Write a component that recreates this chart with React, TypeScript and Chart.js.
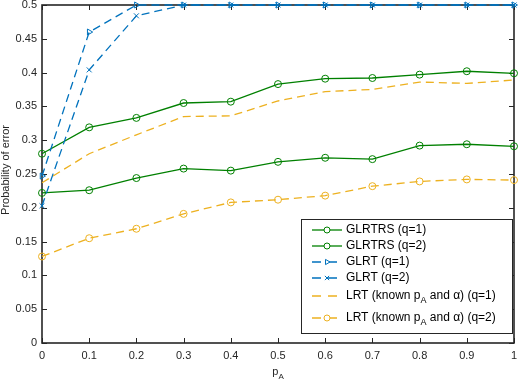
import React, { useEffect, useRef } from "react";
import { Chart, registerables } from "chart.js";
import { drawPoint } from "chart.js/helpers";
Chart.register(...registerables);

const pA = [0, 0.1, 0.2, 0.3, 0.4, 0.5, 0.6, 0.7, 0.8, 0.9, 1];
const glrtrsQ1 = [0.280, 0.319, 0.333, 0.355, 0.357, 0.383, 0.391, 0.392, 0.397, 0.402, 0.399];
const glrtrsQ2 = [0.222, 0.226, 0.244, 0.258, 0.255, 0.268, 0.274, 0.272, 0.292, 0.294, 0.291];
const glrtQ1 = [0.247, 0.460, 0.500, 0.500, 0.500, 0.500, 0.500, 0.500, 0.500, 0.500, 0.500];
const glrtQ2 = [0.203, 0.404, 0.484, 0.500, 0.500, 0.500, 0.500, 0.500, 0.500, 0.500, 0.500];
const lrtQ1 = [0.237, 0.280, 0.308, 0.335, 0.336, 0.358, 0.372, 0.375, 0.386, 0.384, 0.389];
const lrtQ2 = [0.128, 0.155, 0.169, 0.191, 0.208, 0.212, 0.218, 0.232, 0.239, 0.242, 0.241];

const xTicks = [0, 0.1, 0.2, 0.3, 0.4, 0.5, 0.6, 0.7, 0.8, 0.9, 1];
const yTicks = [0, 0.05, 0.1, 0.15, 0.2, 0.25, 0.3, 0.35, 0.4, 0.45, 0.5];

const GREEN = "#008000";
const BLUE = "#0072BD";
const ORANGE = "#EDB120";
const TEXT = "#262626";
const FONT = "'Liberation Sans', Arial, Helvetica, sans-serif";

type Seg = { t: string; sub?: boolean };
type Series = {
  name: Seg[];
  data: number[];
  color: string;
  dash: number[];
  pointStyle: string | false;
  rotation: number;
};

const series: Series[] = [
  { name: [{ t: "GLRTRS (q=1)" }], data: glrtrsQ1, color: GREEN, dash: [], pointStyle: "circle", rotation: 0 },
  { name: [{ t: "GLRTRS (q=2)" }], data: glrtrsQ2, color: GREEN, dash: [], pointStyle: "circle", rotation: 0 },
  { name: [{ t: "GLRT (q=1)" }], data: glrtQ1, color: BLUE, dash: [8, 5], pointStyle: "triangle", rotation: 90 },
  { name: [{ t: "GLRT (q=2)" }], data: glrtQ2, color: BLUE, dash: [8, 5], pointStyle: "crossRot", rotation: 0 },
  {
    name: [{ t: "LRT (known p" }, { t: "A", sub: true }, { t: " and α) (q=1)" }],
    data: lrtQ1, color: ORANGE, dash: [8, 5], pointStyle: false, rotation: 0,
  },
  {
    name: [{ t: "LRT (known p" }, { t: "A", sub: true }, { t: " and α) (q=2)" }],
    data: lrtQ2, color: ORANGE, dash: [8, 5], pointStyle: "circle", rotation: 0,
  },
];

function drawSegs(ctx: CanvasRenderingContext2D, segs: Seg[], x: number, y: number, size: number) {
  let cx = x;
  for (const s of segs) {
    if (s.sub) {
      ctx.font = `${Math.round(size * 0.75)}px ${FONT}`;
      ctx.fillText(s.t, cx, y + size * 0.4);
    } else {
      ctx.font = `${size}px ${FONT}`;
      ctx.fillText(s.t, cx, y);
    }
    cx += ctx.measureText(s.t).width;
  }
  return cx - x;
}

function measureSegs(ctx: CanvasRenderingContext2D, segs: Seg[], size: number) {
  let w = 0;
  for (const s of segs) {
    ctx.font = `${s.sub ? Math.round(size * 0.75) : size}px ${FONT}`;
    w += ctx.measureText(s.t).width;
  }
  return w;
}

const framePlugin = {
  id: "frame",
  beforeDatasetsDraw(chart: any) {
    const { ctx, chartArea } = chart;
    const { left, right, top, bottom } = chartArea;
    const xs = chart.scales.x;
    const ys = chart.scales.y;
    ctx.save();
    ctx.strokeStyle = TEXT;
    ctx.lineWidth = 1;
    ctx.setLineDash([]);
    ctx.beginPath();
    for (const v of xTicks) {
      const px = Math.round(xs.getPixelForValue(v)) + 0.5;
      ctx.moveTo(px, bottom);
      ctx.lineTo(px, bottom - 5);
      ctx.moveTo(px, top);
      ctx.lineTo(px, top + 5);
    }
    for (const v of yTicks) {
      const py = Math.round(ys.getPixelForValue(v)) + 0.5;
      ctx.moveTo(left, py);
      ctx.lineTo(left + 5, py);
      ctx.moveTo(right, py);
      ctx.lineTo(right - 5, py);
    }
    ctx.stroke();
    ctx.lineWidth = 1.6;
    ctx.strokeRect(left, top, right - left, bottom - top);
    ctx.restore();
  },
  afterDraw(chart: any) {
    const { ctx, chartArea } = chart;
    ctx.save();
    ctx.fillStyle = TEXT;
    // y title
    ctx.save();
    ctx.translate(6, (chartArea.top + chartArea.bottom) / 2 - 4);
    ctx.rotate(-Math.PI / 2);
    ctx.font = `11px ${FONT}`;
    ctx.textAlign = "center";
    ctx.textBaseline = "middle";
    ctx.fillText("Probability of error", 0, 0);
    ctx.restore();
    // x title
    ctx.textBaseline = "middle";
    ctx.textAlign = "left";
    const xt: Seg[] = [{ t: "p" }, { t: "A", sub: true }];
    const w = measureSegs(ctx, xt, 11);
    drawSegs(ctx, xt, (chartArea.left + chartArea.right) / 2 - w / 2, 372, 11);

    // legend
    const size = 12;
    const bx = 301, by = 219, bw = 211, bh = 114;
    ctx.fillStyle = "#ffffff";
    ctx.fillRect(bx, by, bw, bh);
    ctx.strokeStyle = TEXT;
    ctx.lineWidth = 1;
    ctx.setLineDash([]);
    ctx.strokeRect(bx + 0.5, by + 0.5, bw, bh);
    const rowsY = [230, 246, 262, 278, 296, 318];
    series.forEach((s, i) => {
      const y = rowsY[i];
      ctx.save();
      ctx.strokeStyle = s.color;
      ctx.lineWidth = 1.3;
      ctx.setLineDash(s.dash.length ? [9, 7] : []);
      ctx.beginPath();
      ctx.moveTo(312, y);
      ctx.lineTo(342, y);
      ctx.stroke();
      ctx.setLineDash([]);
      if (s.pointStyle) {
        ctx.fillStyle = "#ffffff";
        ctx.strokeStyle = s.color;
        ctx.lineWidth = 1;
        drawPoint(ctx, { pointStyle: s.pointStyle as any, radius: 3, rotation: s.rotation, borderWidth: 1 }, 327, y);
      }
      ctx.restore();
      ctx.fillStyle = "#000000";
      ctx.textBaseline = "middle";
      ctx.textAlign = "left";
      drawSegs(ctx, s.name, 346, y, size);
    });
    ctx.restore();
  },
};

export default function App() {
  const ref = useRef<HTMLCanvasElement | null>(null);
  useEffect(() => {
    document.body.style.margin = "0";
    const canvas = ref.current!;
    const chart = new Chart(canvas, {
      type: "line",
      data: {
        datasets: series.map((s, i) => ({
          label: s.name.map((x) => x.t).join(""),
          data: s.data.map((v, j) => ({ x: pA[j], y: v })),
          borderColor: s.color,
          backgroundColor: "rgba(0,0,0,0)",
          borderWidth: 1.3,
          borderDash: s.dash,
          pointStyle: s.pointStyle as any,
          pointRadius: s.pointStyle ? 3.5 : 0,
          pointRotation: s.rotation,
          pointBorderWidth: 1,
          pointBorderColor: s.color,
          pointBackgroundColor: "rgba(0,0,0,0)",
          tension: 0,
          fill: false,
          clip: false as any,
          order: series.length - i,
        })),
      },
      options: {
        animation: false,
        responsive: false,
        devicePixelRatio: 1,
        layout: { padding: { top: 5, right: 6, left: 0, bottom: 0 } },
        plugins: { legend: { display: false }, tooltip: { enabled: false } },
        scales: {
          x: {
            type: "linear",
            min: 0,
            max: 1,
            afterBuildTicks: (scale: any) => {
              scale.ticks = xTicks.map((v) => ({ value: v }));
            },
            ticks: {
              padding: 6,
              color: TEXT,
              font: { family: FONT, size: 11 },
              maxRotation: 0,
              autoSkip: false,
              callback: (v: any) => String(Math.round(Number(v) * 10) / 10),
            },
            grid: { display: false, drawTicks: false },
            border: { display: false },
            afterFit: (scale: any) => {
              scale.height = 39;
              scale.paddingLeft = 0;
              scale.paddingRight = 0;
            },
          },
          y: {
            type: "linear",
            min: 0,
            max: 0.5,
            afterBuildTicks: (scale: any) => {
              scale.ticks = yTicks.map((v) => ({ value: v }));
            },
            ticks: {
              padding: 5,
              color: TEXT,
              font: { family: FONT, size: 11 },
              autoSkip: false,
              callback: (v: any) => String(Math.round(Number(v) * 100) / 100),
            },
            grid: { display: false, drawTicks: false },
            border: { display: false },
            afterFit: (scale: any) => {
              scale.width = 42;
              scale.paddingTop = 0;
              scale.paddingBottom = 0;
            },
          },
        },
      },
      plugins: [framePlugin],
    });
    return () => chart.destroy();
  }, []);
  return (
    <div style={{ position: "absolute", left: 0, top: 0, width: 520, height: 382, background: "#fff" }}>
      <canvas ref={ref} width={520} height={382} style={{ width: 520, height: 382, display: "block" }} />
    </div>
  );
}
